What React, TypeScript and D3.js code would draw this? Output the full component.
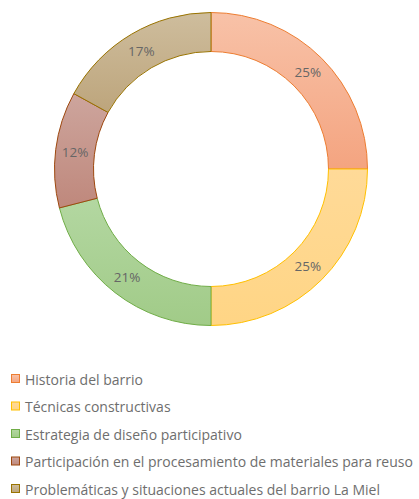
import React from "react";
import * as d3 from "d3";

const categories = [
  "Historia del barrio",
  "Técnicas constructivas",
  "Estrategia de diseño participativo",
  "Participación en el procesamiento de materiales para reuso",
  "Problemáticas y situaciones actuales del barrio La Miel",
];
const values = [25, 25, 21, 12, 17];
const labels = ["25%", "25%", "21%", "12%", "17%"];
const fillTop = ["#F8C2A8", "#FFDA98", "#B3D7A1", "#CDA59D", "#CEBD9D"];
const fillBottom = ["#F4A480", "#FFD585", "#A1CB88", "#BF887C", "#BDA57C"];
const strokes = ["#ED7D31", "#FFC000", "#70AD47", "#9E480E", "#997300"];

export default function App() {
  const W = 419;
  const H = 499;
  const cx = 211;
  const cy = 169;
  const R = 156.5;
  const r = 117.5;

  const pie = d3.pie<number>().sort(null).value((d) => d);
  const arcs = pie(values);
  const arc = d3.arc<d3.PieArcDatum<number>>().innerRadius(r).outerRadius(R);

  const legendY = d3.scalePoint<number>().domain(d3.range(categories.length)).range([379, 489]);

  return (
    <svg width={W} height={H} style={{ position: "absolute", left: 0, top: 0 }}>
      <defs>
        {categories.map((_, i) => (
          <linearGradient key={i} id={`g${i}`} x1="0" y1="0" x2="0" y2="1">
            <stop offset="0" stopColor={fillTop[i]} />
            <stop offset="1" stopColor={fillBottom[i]} />
          </linearGradient>
        ))}
      </defs>
      <g transform={`translate(${cx},${cy})`}>
        {arcs.map((a, i) => (
          <path key={i} d={arc(a) || ""} fill={`url(#g${i})`} stroke={strokes[i]} strokeWidth={1} />
        ))}
        {arcs.map((a, i) => {
          const [x, y] = arc.centroid(a);
          return (
            <text
              key={i}
              x={x}
              y={y}
              textAnchor="middle"
              dominantBaseline="central"
              fontFamily="'Open Sans', sans-serif"
              fontSize={13.5}
              fill="#666666"
            >
              {labels[i]}
            </text>
          );
        })}
      </g>
      {categories.map((c, i) => {
        const y = legendY(i)!;
        return (
          <g key={i}>
            <rect x={11.5} y={y - 4.5} width={8} height={8} fill={`url(#g${i})`} stroke={strokes[i]} strokeWidth={1} />
            <text
              x={25}
              y={y}
              dominantBaseline="central"
              fontFamily="'Open Sans', sans-serif"
              fontSize={14}
              fill="#6E6E6E"
            >
              {c}
            </text>
          </g>
        );
      })}
    </svg>
  );
}
